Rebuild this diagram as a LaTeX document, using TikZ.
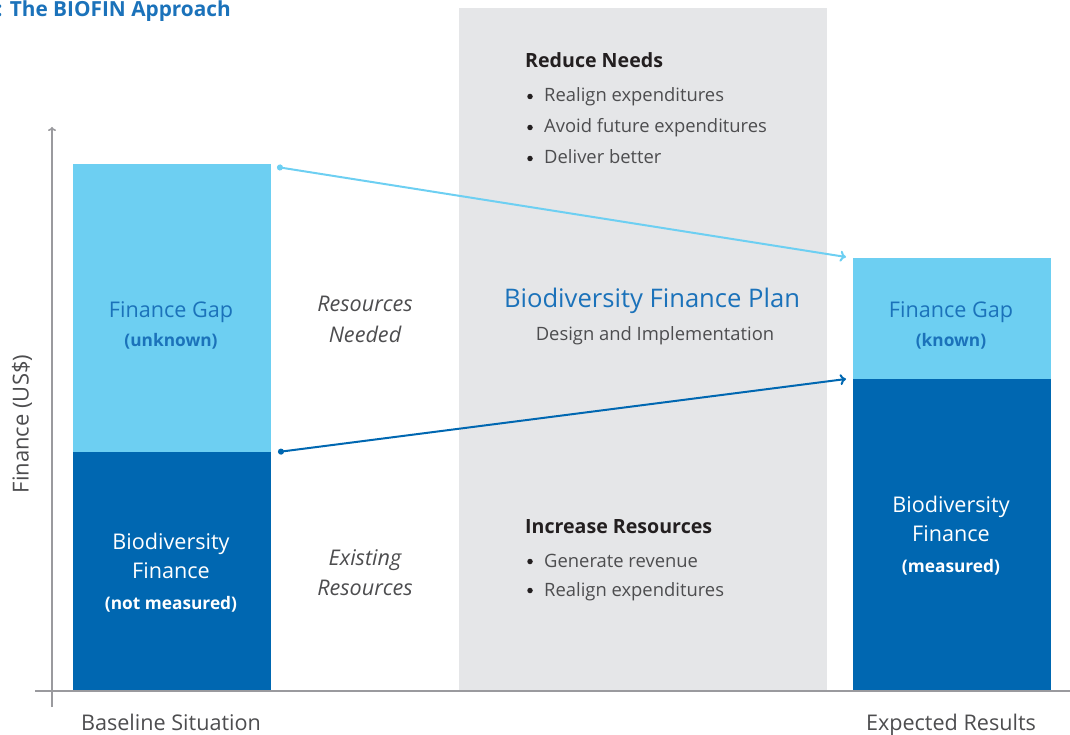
\documentclass[tikz,border=0pt]{standalone}
\usepackage{fontspec}
\setmainfont{Open Sans}
\usetikzlibrary{arrows.meta}
\definecolor{lightb}{HTML}{6DCFF2}
\definecolor{darkb}{HTML}{0067B1}
\definecolor{panelg}{HTML}{E5E6E8}
\definecolor{textb}{HTML}{1B72BA}
\definecolor{textg}{HTML}{4D4D4F}
\definecolor{textk}{HTML}{231F20}
\definecolor{axisg}{HTML}{9A9A9E}
\begin{document}
\begin{tikzpicture}[x=1pt,y=-1pt,
  bar/.style={inner sep=0pt, outer sep=0pt, anchor=north west, draw=none},
  lbl/.style={inner sep=0pt, anchor=base},
  lblw/.style={inner sep=0pt, anchor=base west},
  conn/.style={line width=2pt},
  dot/.style={circle, fill=textk, inner sep=0pt, minimum size=5.5pt},
  fA/.style={font=\fontsize{21.6}{25}\selectfont},
  fI/.style={font=\fontsize{21.6}{25}\selectfont\itshape},
  fB/.style={font=\fontsize{17.3}{20}\selectfont\bfseries},
  fC/.style={font=\fontsize{18.4}{22}\selectfont},
  fH/.style={font=\fontsize{19.6}{23}\selectfont\bfseries},
]
\useasboundingbox (0,0) rectangle (1070,735);
% title
\node[lblw, text=textb, font=\fontsize{20.8}{24}\selectfont\bfseries] (title) at (-3.5,17) {: The BIOFIN Approach};
% panel
\node[bar, fill=panelg, minimum width=368pt, minimum height=684pt] (panel) at (459,8) {};
% bars
\node[bar, fill=lightb, minimum width=198pt, minimum height=288pt] (gapL) at (73,164) {};
\node[bar, fill=darkb, minimum width=198pt, minimum height=239pt] (finL) at (73,452) {};
\node[bar, fill=lightb, minimum width=198pt, minimum height=121pt] (gapR) at (853,258) {};
\node[bar, fill=darkb, minimum width=198pt, minimum height=312pt] (finR) at (853,379) {};
% axes
\coordinate (ybot) at (52,707);
\coordinate (ytop) at (52,127);
\coordinate (xl) at (35,691);
\coordinate (xr) at (1070,691);
\draw[axisg, line width=1.6pt, -{To[length=4pt,width=8pt]}] (ybot) -- (ytop);
\draw[axisg, line width=1.6pt] (xl) -- (xr);
% arrows
\coordinate (a1) at (277,167);
\coordinate (b1) at (846,257);
\coordinate (a2) at (278,452);
\coordinate (b2) at (846,379);
\draw[conn, lightb, {Circle[length=6pt]}-{To[length=6pt,width=11pt]}] (a1) -- (b1);
\draw[conn, darkb, {Circle[length=6pt]}-{To[length=6pt,width=11pt]}] (a2) -- (b2);
% left bar texts
\node[lbl, text=textb, fA] (t1) at (171,317) {Finance Gap};
\node[lbl, text=textb, fB] (t2) at (171,346) {(unknown)};
\node[lbl, text=white, fA] (t3) at (171,549) {Biodiversity};
\node[lbl, text=white, fA] (t4) at (171,578) {Finance};
\node[lbl, text=white, fB] (t5) at (171,609) {(not measured)};
% middle italic labels
\node[lbl, text=textg, fI] (r1) at (365,311) {Resources};
\node[lbl, text=textg, fI] (r2) at (365,342) {Needed};
\node[lbl, text=textg, fI] (e1) at (365,565) {Existing};
\node[lbl, text=textg, fI] (e2) at (365,595) {Resources};
% panel texts
\node[lblw, text=textk, fH] (rn) at (525,68) {Reduce Needs};
\foreach \yy/\tt [count=\i] in {102/Realign expenditures,133/Avoid future expenditures,164/Deliver better}{
  \node[dot] (rnb\i) at (530,\yy-5.5) {};
  \node[lblw, text=textg, fC] (rnt\i) at (544,\yy) {\tt};
}
\node[lbl, text=textb, font=\fontsize{25.6}{30}\selectfont] (plan) at (652,307) {Biodiversity Finance Plan};
\node[lbl, text=textg, fC] (plan2) at (655,340) {Design and Implementation};
\node[lblw, text=textk, fH] (ir) at (525,533) {Increase Resources};
\foreach \yy/\tt [count=\i] in {567/Generate revenue,596/Realign expenditures}{
  \node[dot] (irb\i) at (530,\yy-5.5) {};
  \node[lblw, text=textg, fC] (irt\i) at (544,\yy) {\tt};
}
% right bar texts
\node[lbl, text=textb, fA] (s1) at (951,317) {Finance Gap};
\node[lbl, text=textb, fB] (s2) at (951,346) {(known)};
\node[lbl, text=white, fA] (s3) at (951,512) {Biodiversity};
\node[lbl, text=white, fA] (s4) at (951,541) {Finance};
\node[lbl, text=white, fB] (s5) at (951,572) {(measured)};
% axis labels
\node[lbl, text=textg, fA] (xb) at (171,730) {Baseline Situation};
\node[lbl, text=textg, fA] (xe) at (951,730) {Expected Results};
\node[text=textg, font=\fontsize{22}{26}\selectfont, rotate=90, inner sep=0pt] (ylab) at (22,424) {Finance (US\$)};
\end{tikzpicture}
\end{document}
